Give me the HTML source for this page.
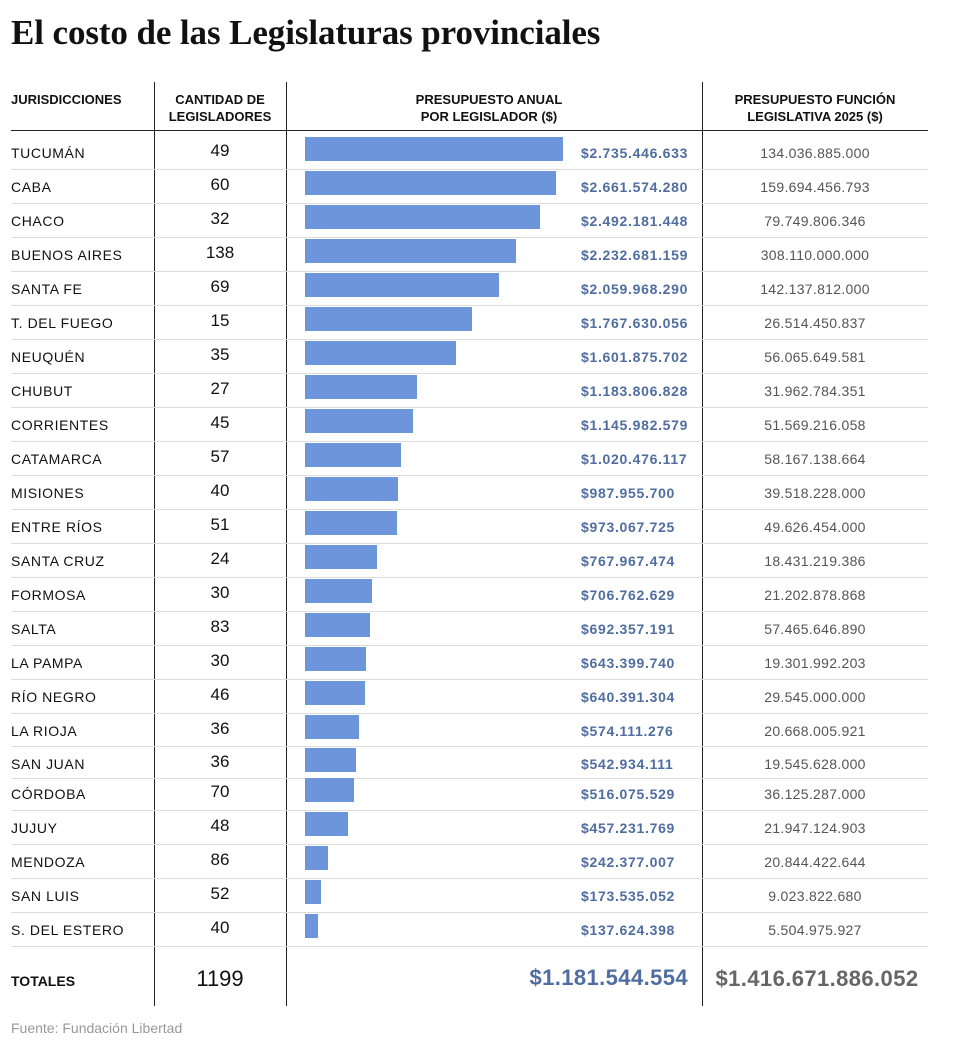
<!DOCTYPE html>
<html><head><meta charset="utf-8"><style>
body{margin:0;width:953px;height:1049px;background:#fff;position:relative;font-family:"Liberation Sans",sans-serif;overflow:hidden}
.a{position:absolute}
h1{position:absolute;left:11px;top:13px;margin:0;font-family:"Liberation Serif",serif;font-size:35px;font-weight:bold;color:#111;letter-spacing:-0.1px}
.hd{position:absolute;font-size:13px;font-weight:bold;color:#111;text-align:center;line-height:17px}
.r{position:absolute;left:11px;width:917px;height:34px}
.n{position:absolute;left:11px;font-size:14px;letter-spacing:0.6px;color:#111;top:10px}
.c{position:absolute;left:154px;width:132px;text-align:center;font-size:17px;color:#111;top:6px}
.b{position:absolute;left:305px;top:2px;height:24px;background:#6d95dc}
.v{position:absolute;font-size:14px;font-weight:bold;color:#4f6d9f;top:10px;letter-spacing:0.7px;white-space:nowrap}
.t{position:absolute;left:702px;width:226px;text-align:center;font-size:14px;color:#555;top:10px;letter-spacing:0.3px}
.sep{position:absolute;left:11px;width:917px;height:1px;background:#ddd}
.vl{position:absolute;top:82px;height:924px;width:1px;background:#222}
</style></head><body>
<h1>El costo de las Legislaturas provinciales</h1>
<div class="hd" style="left:11px;top:91px;text-align:left">JURISDICCIONES</div>
<div class="hd" style="left:154px;width:132px;top:91px">CANTIDAD DE<br>LEGISLADORES</div>
<div class="hd" style="left:286px;width:406px;top:91px">PRESUPUESTO ANUAL<br>POR LEGISLADOR ($)</div>
<div class="hd" style="left:702px;width:226px;top:91px">PRESUPUESTO FUNCIÓN<br>LEGISLATIVA 2025 ($)</div>
<div class="a" style="left:11px;top:130px;width:917px;height:1px;background:#222"></div>
<div class="vl" style="left:154px"></div><div class="vl" style="left:286px"></div><div class="vl" style="left:702px"></div>
<div id="rows"></div>
<div class="sep" style="top:946px"></div>
<div class="a" style="left:11px;top:973px;font-size:14px;font-weight:bold;color:#111">TOTALES</div>
<div class="a" style="left:154px;width:132px;text-align:center;top:966px;font-size:22px;color:#111">1199</div>
<div class="a" style="left:400px;width:288px;text-align:right;top:965px;font-size:22px;font-weight:bold;color:#4f6d9f;letter-spacing:0.4px">$1.181.544.554</div>
<div class="a" style="left:702px;width:230px;text-align:center;top:966px;font-size:22px;font-weight:bold;color:#666;letter-spacing:0.4px">$1.416.671.886.052</div>
<div class="a" style="left:11px;top:1020px;font-size:14px;color:#999">Fuente: Fundación Libertad</div>
<script>
var d=[["TUCUMÁN",49,2735446633,"$2.735.446.633","134.036.885.000"],["CABA",60,2661574280,"$2.661.574.280","159.694.456.793"],["CHACO",32,2492181448,"$2.492.181.448","79.749.806.346"],["BUENOS AIRES",138,2232681159,"$2.232.681.159","308.110.000.000"],["SANTA FE",69,2059968290,"$2.059.968.290","142.137.812.000"],["T. DEL FUEGO",15,1767630056,"$1.767.630.056","26.514.450.837"],["NEUQUÉN",35,1601875702,"$1.601.875.702","56.065.649.581"],["CHUBUT",27,1183806828,"$1.183.806.828","31.962.784.351"],["CORRIENTES",45,1145982579,"$1.145.982.579","51.569.216.058"],["CATAMARCA",57,1020476117,"$1.020.476.117","58.167.138.664"],["MISIONES",40,987955700,"$987.955.700","39.518.228.000"],["ENTRE RÍOS",51,973067725,"$973.067.725","49.626.454.000"],["SANTA CRUZ",24,767967474,"$767.967.474","18.431.219.386"],["FORMOSA",30,706762629,"$706.762.629","21.202.878.868"],["SALTA",83,692357191,"$692.357.191","57.465.646.890"],["LA PAMPA",30,643399740,"$643.399.740","19.301.992.203"],["RÍO NEGRO",46,640391304,"$640.391.304","29.545.000.000"],["LA RIOJA",36,574111276,"$574.111.276","20.668.005.921"],["SAN JUAN",36,542934111,"$542.934.111","19.545.628.000"],["CÓRDOBA",70,516075529,"$516.075.529","36.125.287.000"],["JUJUY",48,457231769,"$457.231.769","21.947.124.903"],["MENDOZA",86,242377007,"$242.377.007","20.844.422.644"],["SAN LUIS",52,173535052,"$173.535.052","9.023.822.680"],["S. DEL ESTERO",40,137624398,"$137.624.398","5.504.975.927"]];
var cy=[152,186,220,254,288,322,356,390,424,458,492,526,560,594,628,662,696,730,763,793,827,861,895,929];
var h="";
d.forEach(function(r,i){var t=cy[i]-17;
if(i>0)h+='<div class="sep" style="top:'+(t+(i==19?2:0))+'px"></div>';
h+='<div class="r" style="top:'+t+'px"><div class="n" style="left:0">'+r[0]+'</div><div class="c" style="left:143px">'+r[1]+'</div><div class="b" style="left:294px;width:'+(r[2]/2735446633*258).toFixed(1)+'px"></div><div class="v" style="left:570px">'+r[3]+'</div><div class="t" style="left:691px">'+r[4]+'</div></div>';});
document.getElementById("rows").innerHTML=h;
</script>
</body></html>
